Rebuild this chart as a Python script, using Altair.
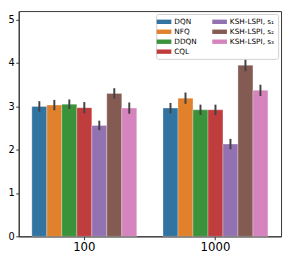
import altair as alt
import pandas as pd

groups = ["100", "1000"]
methods = ["DQN", "NFQ", "DDQN", "CQL", "KSH-LSPI, s₁", "KSH-LSPI, s₂", "KSH-LSPI, s₃"]
colors = ["#3274a1", "#e1812c", "#3a923a", "#c03d3e", "#9372b2", "#845b53", "#d684bd"]
values_100 = [3.00, 3.03, 3.05, 2.97, 2.56, 3.30, 2.96]
values_1000 = [2.96, 3.19, 2.92, 2.92, 2.13, 3.95, 3.37]
err_100 = [0.12, 0.12, 0.11, 0.13, 0.11, 0.12, 0.13]
err_1000 = [0.12, 0.13, 0.12, 0.12, 0.12, 0.14, 0.13]

rows = []
for g, vals, errs in [("100", values_100, err_100), ("1000", values_1000, err_1000)]:
    for m, v, e in zip(methods, vals, errs):
        rows.append({"group": g, "method": m, "value": v, "err": e})
df = pd.DataFrame(rows)

font = "DejaVu Sans"

x_enc = alt.X("group:N", sort=groups, title=None,
              scale=alt.Scale(paddingInner=0.2, paddingOuter=0.1),
              axis=alt.Axis(labelAngle=0, labelFontSize=12, labelColor="#000",
                            tickSize=3.5, tickColor="#333", domainColor="#333",
                            labelPadding=2, labelFont=font))
xoff = alt.XOffset("method:N", sort=methods,
                   scale=alt.Scale(paddingInner=0, paddingOuter=0))

bars = alt.Chart(df).mark_bar(stroke="white", strokeWidth=0.6, strokeOpacity=0.5).encode(
    x=x_enc,
    xOffset=xoff,
    y=alt.Y("value:Q", title=None,
            scale=alt.Scale(domain=[0, 5.2], nice=False, zero=True),
            axis=alt.Axis(values=[0, 1, 2, 3, 4, 5], grid=False, labelFontSize=10,
                          labelColor="#000", tickSize=3, labelPadding=1.5,
                          tickColor="#333", domainColor="#333", labelFont=font)),
    color=alt.Color("method:N",
                    scale=alt.Scale(domain=methods, range=colors),
                    legend=alt.Legend(
                        title=None, orient="top-right", columns=2, offset=3,
                        symbolType="M-1.67,-0.5L1.67,-0.5L1.67,0.5L-1.67,0.5Z",
                        symbolSize=81, symbolStrokeWidth=0,
                        labelFontSize=7.5, labelFont=font, labelLimit=200,
                        labelColor="#000", columnPadding=14, rowPadding=2.2,
                        labelOffset=6, padding=3.5, strokeColor="#d0d0d0",
                        fillColor="white", cornerRadius=2)),
)

errs = alt.Chart(df).transform_calculate(
    lo="datum.value - datum.err", hi="datum.value + datum.err"
).mark_rule(color="#424242", strokeWidth=2).encode(
    x=alt.X("group:N", sort=groups, title=None,
            scale=alt.Scale(paddingInner=0.2, paddingOuter=0.1)),
    xOffset=xoff,
    y="lo:Q",
    y2="hi:Q",
)

chart = alt.layer(bars, errs).properties(
    width=269, height=231,
    padding={"left": 0, "top": 0, "right": 2, "bottom": 0},
).configure_view(stroke="#333", strokeWidth=1).configure_axis(
    domainWidth=1, tickWidth=1
)

chart.save("out.html", embed_options={"renderer": "svg", "actions": False})
